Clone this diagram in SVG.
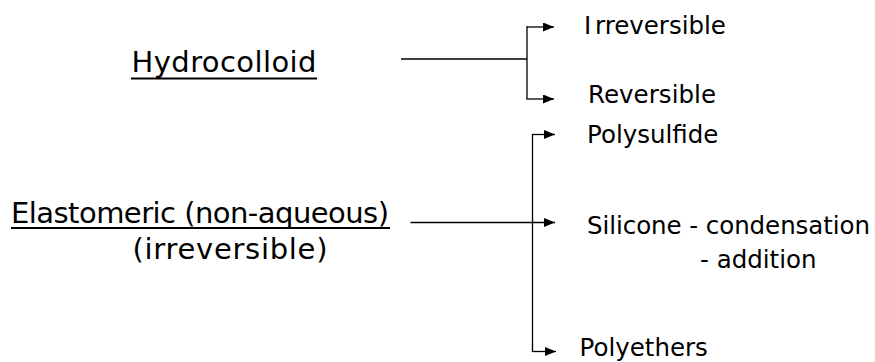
<svg xmlns="http://www.w3.org/2000/svg" width="875" height="362" viewBox="0 0 875 362">
<defs>
<marker id="ah" viewBox="0 0 11 9" refX="11" refY="4.5" markerWidth="11" markerHeight="9" markerUnits="userSpaceOnUse" orient="auto">
<path d="M0,0 L11,4.5 L0,9 Z" fill="#000"/>
</marker>
<style>
text{font-family:"DejaVu Sans","Liberation Sans",sans-serif;fill:#000}
.big{font-size:29px}
.sm{font-size:24.5px}
.ln{stroke:#000;stroke-width:1.3;fill:none}
.ar{stroke:#000;stroke-width:1.3;fill:none;marker-end:url(#ah)}
.ul{stroke:#000;stroke-width:2}
</style>
</defs>
<rect width="875" height="362" fill="#fff"/>
<g id="hydrocolloid">
<text class="big" x="224" y="72" text-anchor="middle" textLength="185">Hydrocolloid</text>
<line class="ul" x1="131" y1="78.5" x2="317" y2="78.5"/>
</g>
<g id="elastomeric">
<text class="big" x="200" y="223" text-anchor="middle" textLength="378" font-size="28">Elastomeric (non-aqueous)</text>
<line class="ul" x1="11" y1="228" x2="390" y2="228"/>
<text class="big" x="230" y="258.5" text-anchor="middle" textLength="195" font-size="28.5">(irreversible)</text>
</g>
<g id="irreversible"><text class="sm" x="584" y="34" font-size="25.5">I<tspan x="595">rreversible</tspan></text></g>
<g id="reversible"><text class="sm" x="588" y="103" textLength="128">Reversible</text></g>
<g id="polysulfide"><text class="sm" x="587" y="143">Polysulfide</text></g>
<g id="silicone">
<text class="sm" x="587" y="234" textLength="283">Silicone - condensation</text>
<text class="sm" x="700" y="268">- addition</text>
</g>
<g id="polyethers"><text class="sm" x="579.5" y="356">Polyethers</text></g>
<g id="connectors">
<line class="ln" x1="401" y1="59" x2="527" y2="59"/>
<line class="ln" x1="527" y1="26.5" x2="527" y2="99"/>
<line class="ar" x1="526.4" y1="27" x2="554" y2="27"/>
<line class="ar" x1="526.4" y1="99" x2="554" y2="99"/>
<line class="ln" x1="532.5" y1="134" x2="532.5" y2="352"/>
<line class="ar" x1="531.9" y1="134.5" x2="555" y2="134.5"/>
<line class="ar" x1="410.5" y1="222.5" x2="555" y2="222.5"/>
<line class="ar" x1="531.9" y1="351.5" x2="556" y2="351.5"/>
</g>
</svg>
